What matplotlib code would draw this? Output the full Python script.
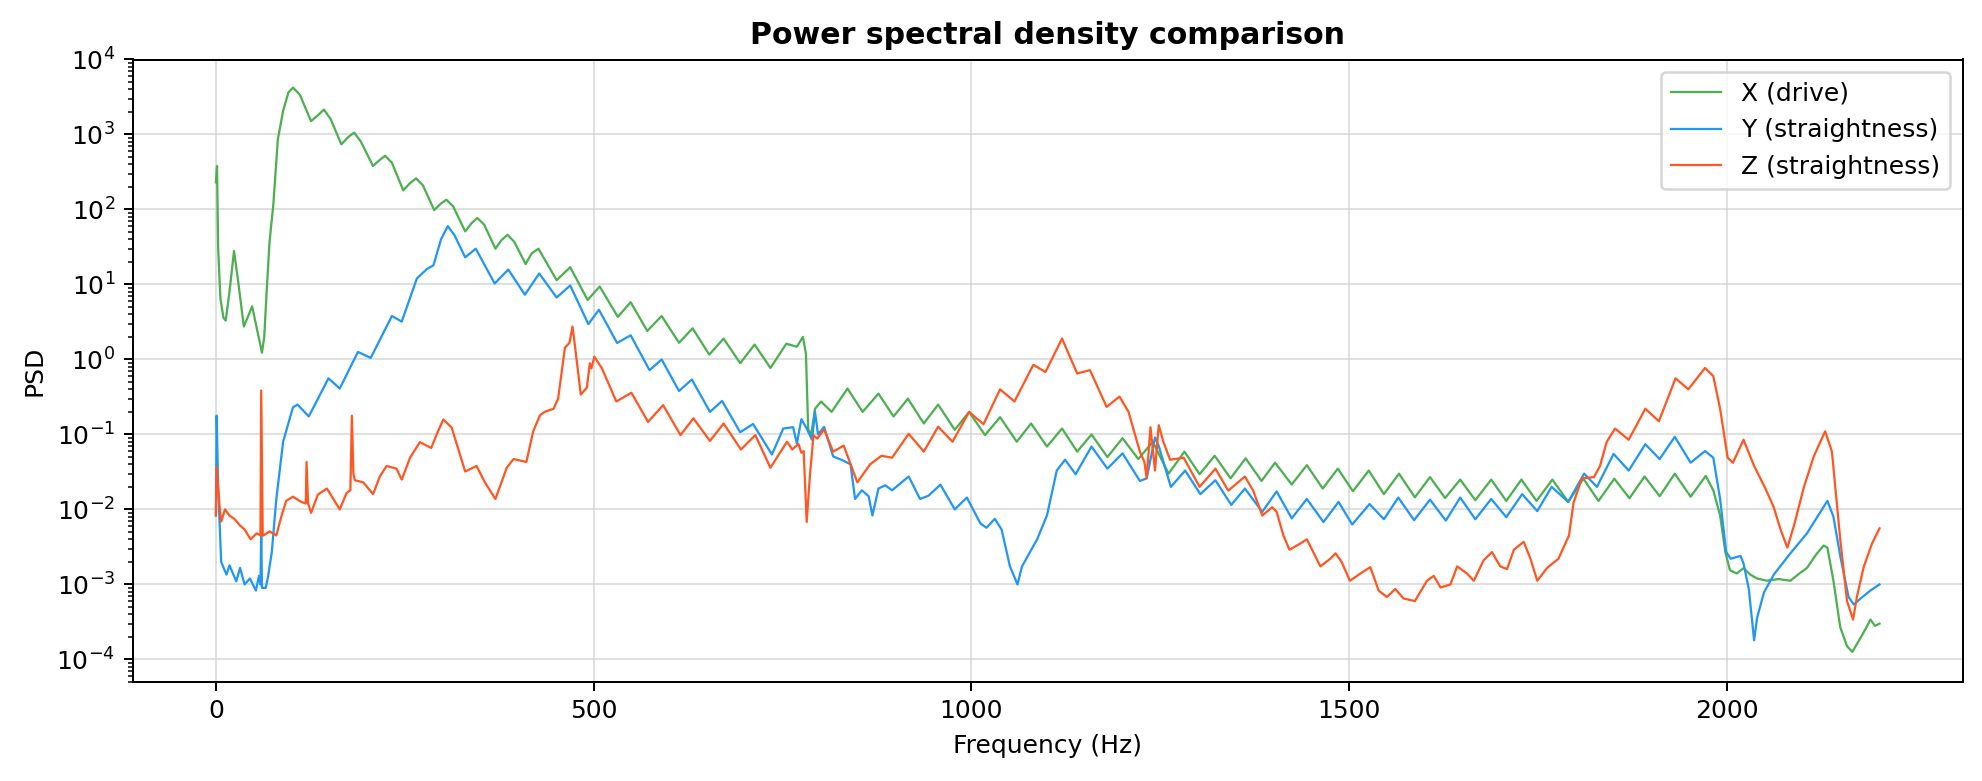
import matplotlib
matplotlib.use("Agg")
import matplotlib.pyplot as plt
from matplotlib.ticker import LogLocator, NullFormatter

# ---------------- data ----------------
freq_x = [0, 1.5, 3, 6, 10, 13, 18, 24, 30, 37, 48, 61, 64, 67, 71, 76, 82, 89, 96, 102, 111, 126, 135, 143,
          152, 166, 175, 183, 192, 208, 216, 224, 233, 248, 257, 265, 274, 289, 297, 305, 314, 330, 338, 346,
          355, 370, 378, 386, 395, 410, 418, 427, 451, 469, 492, 508, 532,
          549, 571, 590, 613, 631, 653, 672, 694, 713, 734, 755, 769, 777, 781, 784, 788, 793, 801, 815,
          836, 856, 877, 897, 916, 937, 956, 978, 997, 1018, 1038, 1060, 1079, 1100, 1120, 1140, 1159,
          1180, 1200, 1221, 1240, 1261, 1282, 1302, 1322, 1343, 1363, 1384, 1402, 1424, 1444, 1465, 1485,
          1505, 1526, 1546, 1566, 1587, 1607, 1627, 1647, 1667, 1688, 1708, 1728, 1748, 1769, 1790, 1810,
          1830, 1851, 1871, 1891, 1911, 1931, 1952, 1972, 1982, 1991, 1998, 2004, 2013, 2022, 2031, 2040,
          2053, 2068, 2084, 2096, 2106, 2118, 2128, 2133, 2141, 2150, 2159, 2166, 2172, 2177, 2184, 2190,
          2196, 2202]
psd_x = [230, 380, 30, 6.5, 3.6, 3.3, 8, 28, 10, 2.75, 5.1, 1.23, 2.0, 7.4, 37, 115, 860, 2070, 3630, 4230,
         3400, 1510, 1800, 2150, 1600, 740, 920, 1060, 800, 380, 450, 520, 420, 180, 225, 260, 210, 98,
         118, 135, 110, 51, 65, 77, 63, 30, 39, 46, 37, 18.7, 26, 30, 11.4, 17, 6.2,
         9.4, 3.7, 5.8, 2.4, 3.8, 1.67, 2.6, 1.16, 1.9, 0.89, 1.58, 0.77, 1.62, 1.48, 2.0, 1.2, 0.117, 0.10,
         0.22, 0.275, 0.2, 0.41, 0.2, 0.35, 0.174, 0.3, 0.14, 0.25, 0.115, 0.2, 0.098, 0.17, 0.08, 0.14,
         0.069, 0.12, 0.059, 0.1, 0.05, 0.089, 0.047, 0.08, 0.03, 0.059, 0.0295, 0.052, 0.026, 0.048, 0.024,
         0.042, 0.0215, 0.039, 0.019, 0.035, 0.0175, 0.033, 0.016, 0.03, 0.0145, 0.027, 0.0142, 0.025,
         0.0133, 0.025, 0.013, 0.025, 0.013, 0.025, 0.0126, 0.0257, 0.013, 0.0257, 0.0141, 0.0275, 0.015,
         0.03, 0.0148, 0.028, 0.018, 0.0083, 0.0027, 0.00155, 0.0014, 0.00165, 0.00135, 0.0012, 0.00112,
         0.00118, 0.00112, 0.0014, 0.00166, 0.0025, 0.0033, 0.0031, 0.00112, 0.00027, 0.00015, 0.000126,
         0.00016, 0.000195, 0.00026, 0.00034, 0.00028, 0.0003]

freq_y = [0, 1, 3, 7, 14, 18, 27, 32, 38, 45, 53, 57, 59, 60, 61, 63, 66, 69, 74, 80, 89, 102, 108, 123,
          149, 164, 188, 205, 233, 246, 266, 279, 288, 298, 307, 316, 330, 344, 369, 387, 409, 428, 451, 469, 493,
          507, 531, 549, 574, 590, 613, 630, 654, 670, 694, 711, 736, 751, 764, 769, 775, 782, 789, 793,
          797, 805, 817, 830, 840, 846, 855, 864, 869, 877, 886, 895, 917, 932, 943, 959, 978, 994, 1012,
          1020, 1031, 1040, 1051, 1061, 1067, 1087, 1100, 1113, 1124, 1138, 1159, 1180, 1200, 1223, 1232,
          1243, 1248, 1264, 1283, 1303, 1323, 1344, 1362, 1385, 1404, 1424, 1444, 1466, 1486, 1504, 1527,
          1546, 1565, 1586, 1607, 1628, 1647, 1667, 1688, 1708, 1729, 1749, 1768, 1790, 1811, 1828, 1850,
          1870, 1892, 1911, 1931, 1952, 1971, 1982, 1991, 1999, 2005, 2018, 2022, 2029, 2036, 2040, 2049,
          2062, 2084, 2106, 2133, 2141, 2150, 2161, 2168, 2177, 2190, 2202]
psd_y = [0.0083, 0.178, 0.02, 0.002, 0.00135, 0.0018, 0.0011, 0.00166, 0.001, 0.0012, 0.00083, 0.0013,
         0.001, 0.005, 0.0009, 0.0009, 0.0009, 0.00126, 0.0027, 0.0138, 0.08, 0.23, 0.25, 0.174, 0.56,
         0.41, 1.26, 1.05, 3.8, 3.2, 12, 16, 18, 40, 60, 45, 23, 30, 10.3, 15.8, 7.3, 14, 6.7, 9.7, 2.96, 4.6,
         1.66, 2.1, 0.72, 1.0, 0.38, 0.54, 0.2, 0.28, 0.107, 0.138, 0.054, 0.12, 0.125, 0.076, 0.16, 0.12,
         0.085, 0.2, 0.1, 0.126, 0.051, 0.045, 0.04, 0.0138, 0.018, 0.015, 0.0083, 0.019, 0.021, 0.018,
         0.0275, 0.0138, 0.0152, 0.0214, 0.01, 0.0144, 0.0065, 0.0057, 0.0075, 0.0054, 0.00174, 0.001,
         0.00174, 0.004, 0.0083, 0.033, 0.046, 0.0295, 0.069, 0.035, 0.056, 0.024, 0.026, 0.091, 0.07,
         0.02, 0.033, 0.016, 0.0245, 0.0115, 0.019, 0.0093, 0.0174, 0.0076, 0.0138, 0.0068, 0.0126, 0.0063,
         0.0118, 0.0074, 0.0144, 0.0072, 0.0135, 0.0071, 0.0144, 0.0074, 0.0138, 0.0079, 0.016, 0.0095,
         0.02, 0.0126, 0.03, 0.02, 0.055, 0.033, 0.074, 0.047, 0.093, 0.042, 0.06, 0.049, 0.0138, 0.0027,
         0.0022, 0.0024, 0.0019, 0.00087, 0.00018, 0.00036, 0.00078, 0.00135, 0.0026, 0.0048, 0.013, 0.008,
         0.0024, 0.00068, 0.00054, 0.00065, 0.00083, 0.001]

freq_z = [0, 1, 5, 7, 12, 18, 25, 32, 38, 46, 54, 59, 60, 62, 63, 71, 80, 87, 93, 102, 113, 119, 120, 122,
          126, 135, 147, 164, 173, 178, 180, 182, 184, 195, 208, 217, 226, 239, 246, 257, 270, 285, 294,
          301, 312, 330, 345, 356, 370, 385, 394, 411, 420, 429, 435, 447, 453, 462, 468, 472, 475, 483,
          491, 495, 497, 501, 511, 530, 550, 572, 592, 615, 632, 654, 672, 695, 714, 734, 756, 763, 771,
          775, 778, 782, 786, 791, 796, 805, 817, 831, 849, 866, 881, 895, 917, 937, 956, 975, 997, 1016,
          1038, 1057, 1082, 1098, 1120, 1140, 1157, 1179, 1196, 1208, 1223, 1229, 1232, 1237, 1243, 1248,
          1254, 1263, 1281, 1302, 1323, 1340, 1362, 1373, 1385, 1398, 1404, 1413, 1421, 1435, 1444, 1462,
          1475, 1482, 1490, 1501, 1515, 1528, 1539, 1550, 1561, 1572, 1587, 1603, 1612, 1621, 1634, 1643,
          1656, 1665, 1678, 1689, 1700, 1709, 1718, 1731, 1740, 1749, 1762, 1777, 1791, 1797, 1808, 1824,
          1832, 1841, 1852, 1870, 1892, 1910, 1932, 1949, 1971, 1982, 1991, 2001, 2008, 2022, 2036, 2051,
          2062, 2071, 2080, 2089, 2102, 2115, 2130, 2139, 2150, 2159, 2167, 2172, 2181, 2192, 2202]
psd_z = [0.0083, 0.037, 0.0107, 0.0069, 0.01, 0.0083, 0.0074, 0.0061, 0.0054, 0.004, 0.0048, 0.0045, 0.385,
         0.0045, 0.0045, 0.0051, 0.0045, 0.0083, 0.013, 0.0148, 0.0126, 0.012, 0.043, 0.012, 0.009, 0.0158,
         0.019, 0.01, 0.0166, 0.018, 0.178, 0.03, 0.0245, 0.023, 0.016, 0.0275, 0.038, 0.035, 0.025, 0.049,
         0.079, 0.066, 0.11, 0.158, 0.124, 0.032, 0.038, 0.023, 0.0138, 0.036, 0.047, 0.043, 0.11, 0.18,
         0.2, 0.22, 0.3, 1.44, 1.66, 2.75, 1.6, 0.34, 0.42, 0.89, 0.76, 1.09, 0.76, 0.275, 0.36, 0.147,
         0.246, 0.098, 0.164, 0.082, 0.14, 0.063, 0.098, 0.036, 0.08, 0.063, 0.075, 0.057, 0.06, 0.0068,
         0.026, 0.098, 0.088, 0.117, 0.059, 0.071, 0.023, 0.04, 0.052, 0.049, 0.102, 0.059, 0.127, 0.08,
         0.2, 0.137, 0.4, 0.275, 0.85, 0.68, 1.9, 0.65, 0.72, 0.233, 0.32, 0.2, 0.059, 0.043, 0.026, 0.125,
         0.033, 0.133, 0.08, 0.046, 0.049, 0.02, 0.035, 0.0178, 0.0275, 0.0178, 0.0083, 0.0107, 0.0093,
         0.0045, 0.0029, 0.0035, 0.004, 0.00174, 0.0022, 0.0026, 0.002, 0.00112, 0.0014, 0.0017, 0.00083,
         0.00068, 0.00087, 0.00065, 0.0006, 0.00112, 0.0013, 0.00091, 0.001, 0.00174, 0.0014, 0.00112,
         0.0021, 0.0027, 0.00174, 0.0016, 0.0029, 0.0037, 0.0022, 0.00112, 0.00166, 0.0022, 0.0045, 0.0123,
         0.026, 0.027, 0.038, 0.08, 0.12, 0.085, 0.22, 0.15, 0.56, 0.4, 0.77, 0.6, 0.22, 0.049, 0.042,
         0.085, 0.038, 0.019, 0.0107, 0.0054, 0.0031, 0.0062, 0.02, 0.051, 0.11, 0.059, 0.004, 0.0006,
         0.00034, 0.00068, 0.0017, 0.0035, 0.0056]

labels = ["X (drive)", "Y (straightness)", "Z (straightness)"]
colors = ["#4caf50", "#2196f3", "#ff5722"]
ytick_values = [1e-4, 1e-3, 1e-2, 1e-1, 1e0, 1e1, 1e2, 1e3, 1e4]

# ---------------- figure ----------------
DPI = 180
W, H = 1982, 781
fig = plt.figure(figsize=(W / DPI, H / DPI), dpi=DPI)
L, R, T, B = 132.7, 1962.7, 59.5, 682.0
ax = fig.add_axes([L / W, 1 - B / H, (R - L) / W, (B - T) / H])

for f, p, lab, c in zip([freq_x, freq_y, freq_z], [psd_x, psd_y, psd_z], labels, colors):
    ax.plot(f, p, color=c, lw=0.9, label=lab)

ax.set_yscale("log")
ax.set_ylim(5e-5, 1e4)
ax.set_yticks(ytick_values)
ax.yaxis.set_minor_locator(LogLocator(base=10, subs=range(2, 10), numticks=100))
ax.yaxis.set_minor_formatter(NullFormatter())
ax.grid(True, which="major", color="#cccccc", alpha=0.6, lw=0.8)
ax.set_xlabel("Frequency (Hz)")
ax.set_ylabel("PSD")
ax.set_title("Power spectral density comparison", fontweight="bold", fontsize=12)
ax.legend(loc="upper right")

fig.savefig("out.png", dpi=DPI)
